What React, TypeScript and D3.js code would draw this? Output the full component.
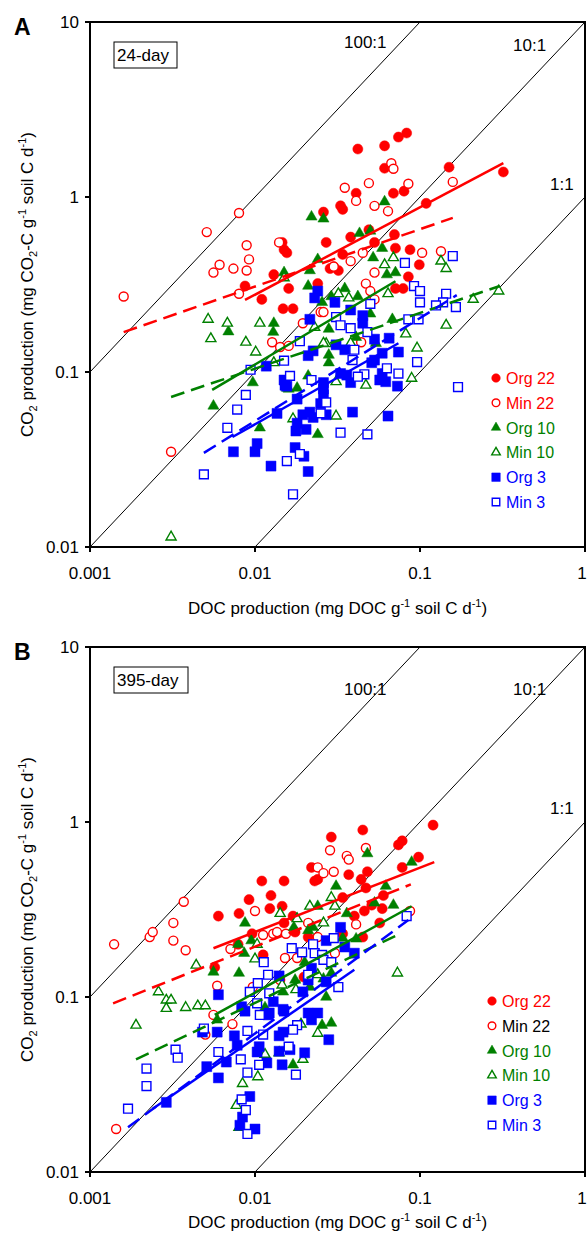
import React from 'react';
import * as d3 from 'd3';

const X_TICKS = [0.001, 0.01, 0.1, 1];
const X_TICK_LABELS = ['0.001', '0.01', '0.1', '1'];
const Y_TICKS = [0.01, 0.1, 1, 10];
const Y_TICK_LABELS = ['0.01', '0.1', '1', '10'];
const RATIOS = [100, 10, 1];
const RATIO_LABELS = ['100:1', '10:1', '1:1'];
const SERIES_NAMES = ['Org 22', 'Min 22', 'Org 10', 'Min 10', 'Org 3', 'Min 3'];

const A_ORG22 = [
  [0.042, 1.88], [0.061, 1.96], [0.074, 2.2], [0.083, 2.32], [0.061, 1.46], [0.15, 1.48], [0.32, 1.39], [0.041, 1.05], [0.069, 1.05], [0.08, 1.08],
  [0.033, 0.89], [0.034, 0.85], [0.026, 0.82], [0.109, 0.92], [0.038, 0.59], [0.027, 0.55], [0.049, 0.65], [0.053, 0.55], [0.07, 0.61], [0.071, 0.51],
  [0.087, 0.5], [0.099, 0.41], [0.085, 0.35], [0.034, 0.47], [0.03, 0.4], [0.032, 0.38], [0.024, 0.32], [0.016, 0.3], [0.015, 0.5], [0.0146, 0.55],
  [0.071, 0.3], [0.079, 0.3], [0.0148, 0.23], [0.017, 0.23], [0.0156, 0.48], [0.013, 0.36], [0.0087, 0.31], [0.011, 0.26], [0.0285, 0.39],
];
const A_MIN22 = [
  [0.0016, 0.27], [0.0051, 0.63], [0.008, 0.81], [0.0089, 0.53], [0.0061, 0.41], [0.0056, 0.37], [0.0074, 0.39], [0.0089, 0.38], [0.0092, 0.44], [0.014, 0.55],
  [0.008, 0.28], [0.0195, 0.19], [0.0127, 0.148], [0.0142, 0.139], [0.016, 0.141], [0.025, 0.22], [0.03, 0.4], [0.0031, 0.035], [0.035, 1.13], [0.049, 1.2],
  [0.067, 1.56], [0.069, 1.45], [0.085, 1.19], [0.158, 1.22], [0.041, 0.95], [0.053, 0.89], [0.064, 0.83], [0.045, 0.48], [0.038, 0.43], [0.053, 0.37],
  [0.047, 0.32], [0.05, 0.29], [0.053, 0.26], [0.103, 0.48], [0.134, 0.49], [0.044, 0.148], [0.026, 0.22],
];
const A_ORG10 = [
  [0.022, 0.77], [0.026, 0.75], [0.024, 0.44], [0.0215, 0.38], [0.015, 0.37], [0.021, 0.31], [0.0255, 0.25], [0.029, 0.27], [0.013, 0.19], [0.0129, 0.169],
  [0.0069, 0.17], [0.0097, 0.087], [0.021, 0.095], [0.018, 0.081], [0.0156, 0.081], [0.028, 0.125], [0.061, 0.94], [0.043, 0.62], [0.05, 0.64], [0.059, 0.51],
  [0.052, 0.45], [0.063, 0.36], [0.071, 0.37], [0.035, 0.3], [0.042, 0.27], [0.05, 0.215], [0.068, 0.2], [0.028, 0.176], [0.041, 0.158], [0.054, 0.146],
  [0.028, 0.113], [0.016, 0.08], [0.0056, 0.064], [0.0107, 0.048], [0.024, 0.044],
];
const A_MIN10 = [
  [0.0052, 0.2], [0.0054, 0.155], [0.0068, 0.19], [0.0107, 0.19], [0.0088, 0.148], [0.0101, 0.13], [0.015, 0.345], [0.023, 0.18], [0.027, 0.145], [0.013, 0.113],
  [0.069, 0.45], [0.061, 0.41], [0.064, 0.28], [0.134, 0.43], [0.144, 0.39], [0.21, 0.26], [0.3, 0.29], [0.144, 0.185], [0.082, 0.165], [0.096, 0.137],
  [0.089, 0.092], [0.047, 0.084], [0.031, 0.088], [0.038, 0.146], [0.026, 0.146], [0.032, 0.28], [0.037, 0.265], [0.0031, 0.0114], [0.031, 0.056], [0.017, 0.054],
];
const A_ORG3 = [
  [0.024, 0.29], [0.023, 0.265], [0.0215, 0.2], [0.0117, 0.108], [0.021, 0.124], [0.0225, 0.132], [0.015, 0.09], [0.0156, 0.083], [0.026, 0.08], [0.031, 0.143],
  [0.0305, 0.25], [0.038, 0.226], [0.045, 0.21], [0.045, 0.19], [0.053, 0.154], [0.065, 0.156], [0.074, 0.13], [0.059, 0.128], [0.053, 0.117], [0.051, 0.113],
  [0.035, 0.134], [0.059, 0.098], [0.057, 0.09], [0.062, 0.088], [0.073, 0.083], [0.033, 0.098], [0.036, 0.096], [0.038, 0.087], [0.026, 0.087], [0.0074, 0.035],
  [0.0103, 0.039], [0.01, 0.035], [0.0125, 0.029], [0.021, 0.027], [0.0175, 0.037], [0.0198, 0.033], [0.0177, 0.046], [0.0204, 0.047], [0.018, 0.051], [0.0195, 0.057],
  [0.0215, 0.059], [0.0225, 0.055], [0.027, 0.057], [0.0136, 0.058], [0.018, 0.07], [0.0152, 0.084], [0.026, 0.074], [0.025, 0.066], [0.039, 0.059], [0.064, 0.056],
];
const A_MIN3 = [
  [0.0187, 0.15], [0.0094, 0.103], [0.015, 0.116], [0.0163, 0.095], [0.0088, 0.074], [0.031, 0.206], [0.158, 0.46], [0.081, 0.42], [0.092, 0.31], [0.1, 0.29],
  [0.1, 0.25], [0.144, 0.28], [0.138, 0.25], [0.125, 0.24], [0.165, 0.235], [0.085, 0.2], [0.098, 0.2], [0.05, 0.245], [0.033, 0.185], [0.038, 0.178],
  [0.048, 0.169], [0.04, 0.134], [0.039, 0.117], [0.063, 0.105], [0.074, 0.098], [0.046, 0.097], [0.042, 0.094], [0.022, 0.09], [0.17, 0.082], [0.0078, 0.061],
  [0.0068, 0.048], [0.0049, 0.026], [0.0156, 0.031], [0.0187, 0.034], [0.017, 0.02], [0.027, 0.067], [0.025, 0.058], [0.033, 0.045], [0.048, 0.044], [0.096, 0.114],
];

const B_ORG22 = [
  [0.029, 0.82], [0.011, 0.46], [0.015, 0.46], [0.0125, 0.38], [0.0092, 0.36], [0.008, 0.3], [0.006, 0.29], [0.0123, 0.32], [0.0146, 0.33], [0.023, 0.46],
  [0.022, 0.55], [0.017, 0.29], [0.015, 0.265], [0.0175, 0.235], [0.0096, 0.23], [0.0079, 0.2], [0.0112, 0.174], [0.0057, 0.148], [0.0198, 0.13], [0.045, 0.9],
  [0.12, 0.96], [0.074, 0.74], [0.078, 0.78], [0.098, 0.63], [0.078, 0.55], [0.048, 0.52], [0.037, 0.5], [0.024, 0.47], [0.044, 0.47], [0.047, 0.42],
  [0.034, 0.37], [0.06, 0.38], [0.051, 0.335], [0.059, 0.32], [0.04, 0.29], [0.046, 0.31], [0.057, 0.265], [0.045, 0.22], [0.034, 0.23], [0.021, 0.22],
];
const B_MIN22 = [
  [0.0014, 0.2], [0.0023, 0.22], [0.0024, 0.235], [0.0032, 0.265], [0.0032, 0.21], [0.0038, 0.185], [0.0037, 0.35], [0.01, 0.31], [0.0285, 0.69], [0.024, 0.55],
  [0.026, 0.51], [0.03, 0.52], [0.0112, 0.226], [0.0129, 0.23], [0.0136, 0.235], [0.0154, 0.23], [0.0071, 0.188], [0.0059, 0.116], [0.0056, 0.079], [0.0073, 0.07],
  [0.021, 0.265], [0.024, 0.22], [0.0305, 0.178], [0.0152, 0.167], [0.018, 0.167], [0.0142, 0.125], [0.0097, 0.114], [0.00144, 0.0176], [0.005, 0.061], [0.047, 0.71],
  [0.036, 0.64], [0.037, 0.61], [0.041, 0.26], [0.087, 0.31],
];
const B_ORG10 = [
  [0.0087, 0.265], [0.0095, 0.21], [0.0079, 0.2], [0.0086, 0.178], [0.0056, 0.139], [0.008, 0.137], [0.0172, 0.25], [0.0225, 0.25], [0.024, 0.33], [0.031, 0.43],
  [0.02, 0.158], [0.0175, 0.125], [0.0059, 0.074], [0.0115, 0.087], [0.027, 0.1], [0.0255, 0.069], [0.029, 0.071], [0.017, 0.041], [0.0215, 0.114], [0.048, 0.66],
  [0.089, 0.59], [0.062, 0.43], [0.069, 0.335], [0.053, 0.345], [0.036, 0.3], [0.021, 0.24], [0.034, 0.217], [0.041, 0.215], [0.029, 0.137], [0.026, 0.127],
  [0.0148, 0.107],
];
const B_MIN10 = [
  [0.0044, 0.152], [0.0026, 0.107], [0.0029, 0.096], [0.0031, 0.096], [0.0029, 0.086], [0.0038, 0.087], [0.0045, 0.089], [0.005, 0.089], [0.0019, 0.069], [0.0142, 0.3],
  [0.018, 0.28], [0.0215, 0.33], [0.0305, 0.33], [0.029, 0.37], [0.0103, 0.2], [0.01, 0.165], [0.0084, 0.032], [0.0104, 0.035], [0.0077, 0.024], [0.008, 0.018],
  [0.0195, 0.044], [0.024, 0.062], [0.019, 0.07], [0.0115, 0.047], [0.014, 0.048], [0.0146, 0.117], [0.026, 0.265], [0.073, 0.137], [0.0177, 0.11], [0.024, 0.134],
];
const B_ORG3 = [
  [0.006, 0.103], [0.0083, 0.088], [0.0087, 0.083], [0.0122, 0.081], [0.015, 0.083], [0.0129, 0.094], [0.014, 0.132], [0.022, 0.146], [0.0195, 0.107], [0.021, 0.125],
  [0.027, 0.122], [0.027, 0.21], [0.033, 0.25], [0.021, 0.081], [0.024, 0.081], [0.0059, 0.063], [0.0075, 0.06], [0.0078, 0.053], [0.0067, 0.0425], [0.006, 0.0345],
  [0.0051, 0.04], [0.0029, 0.025], [0.0103, 0.0485], [0.0106, 0.052], [0.0118, 0.042], [0.014, 0.049], [0.0146, 0.041], [0.0163, 0.05], [0.02, 0.048], [0.0148, 0.063],
  [0.014, 0.06], [0.012, 0.079], [0.028, 0.057], [0.0093, 0.027], [0.0084, 0.0206], [0.0081, 0.0185], [0.01, 0.0176], [0.0048, 0.063], [0.035, 0.193], [0.04, 0.178],
  [0.0148, 0.085], [0.022, 0.074],
];
const B_MIN3 = [
  [0.0113, 0.158], [0.012, 0.134], [0.0104, 0.12], [0.0093, 0.107], [0.0122, 0.105], [0.0103, 0.092], [0.0107, 0.079], [0.0167, 0.19], [0.0193, 0.18], [0.0225, 0.2],
  [0.023, 0.178], [0.0255, 0.174], [0.03, 0.217], [0.021, 0.134], [0.018, 0.069], [0.0049, 0.066], [0.0017, 0.023], [0.0022, 0.039], [0.0022, 0.031], [0.0033, 0.05],
  [0.0034, 0.045], [0.006, 0.0485], [0.0082, 0.044], [0.009, 0.037], [0.0106, 0.041], [0.009, 0.064], [0.0112, 0.061], [0.017, 0.065], [0.016, 0.052], [0.0177, 0.036],
  [0.0083, 0.026], [0.0088, 0.0226], [0.009, 0.0165], [0.083, 0.29], [0.032, 0.114], [0.026, 0.163], [0.029, 0.158],
];

// regression (trend) lines: [start, end]
const A_FIT_ORG22 = [[0.0087, 0.258], [0.32, 1.56]];
const A_FIT_MIN22 = [[0.0016, 0.169], [0.158, 0.76]];
const A_FIT_ORG10 = [[0.0055, 0.079], [0.071, 0.33]];
const A_FIT_MIN10 = [[0.0031, 0.072], [0.305, 0.31]];
const A_FIT_ORG3 = [[0.0073, 0.0425], [0.074, 0.146]];
const A_FIT_MIN3 = [[0.0049, 0.0345], [0.167, 0.275]];
const B_FIT_ORG22 = [[0.0056, 0.19], [0.122, 0.59]];
const B_FIT_MIN22 = [[0.00138, 0.092], [0.088, 0.44]];
const B_FIT_ORG10 = [[0.0057, 0.079], [0.089, 0.33]];
const B_FIT_MIN10 = [[0.0019, 0.044], [0.073, 0.226]];
const B_FIT_ORG3 = [[0.0024, 0.023], [0.04, 0.143]];
const B_FIT_MIN3 = [[0.0017, 0.018], [0.085, 0.275]];

const FONT = "'Liberation Sans', Arial, Helvetica, sans-serif";
const RED = '#ff0000';
const GREEN = '#008000';
const BLUE = '#0000ff';
const STYLES = [
  { color: RED, shape: 'circle', filled: true },
  { color: RED, shape: 'circle', filled: false },
  { color: GREEN, shape: 'triangle', filled: true },
  { color: GREEN, shape: 'triangle', filled: false },
  { color: BLUE, shape: 'square', filled: true },
  { color: BLUE, shape: 'square', filled: false },
];

const X0 = 90, X1 = 585;

function symbolPath(shape: string, filled: boolean, k = 1) {
  let type: any = d3.symbolCircle;
  let size = filled ? 80 : 64;
  if (shape === 'triangle') { type = d3.symbolTriangle; size = filled ? 54 : 44; }
  if (shape === 'square') { type = d3.symbolSquare; size = filled ? 100 : 78; }
  return d3.symbol().type(type).size(size * k * k)() as string;
}

function Marker({ st, x, y, k = 1 }: any) {
  return (
    <path
      d={symbolPath(st.shape, st.filled, k)}
      transform={`translate(${x},${y})`}
      fill={st.filled ? st.color : '#ffffff'}
      stroke={st.color}
      strokeWidth={st.filled ? 0.5 : 1.4}
    />
  );
}

function Panel({ top, letter, boxLabel, boxW, series, fits, legendX, legendY, legendColors, ratioPos, xTitleY }: any) {
  const x = d3.scaleLog().domain([0.001, 1]).range([X0, X1]);
  const y = d3.scaleLog().domain([0.01, 10]).range([top + 525, top]);
  const bottom = top + 525;
  return (
    <g fontFamily={FONT}>
      {RATIOS.map((r, i) => {
        const xs = Math.max(0.001, 0.01 / r);
        const xe = Math.min(1, 10 / r);
        return (
          <line key={'r' + i} x1={x(xs)} y1={y(r * xs)} x2={x(xe)} y2={y(r * xe)} stroke="#000" strokeWidth={1} />
        );
      })}
      {RATIO_LABELS.map((t, i) => (
        <text key={'rl' + i} x={ratioPos[i][0]} y={top + ratioPos[i][1]} fontSize={17} fill="#000">{t}</text>
      ))}
      {series.map((pts: number[][], si: number) => (
        <g key={'s' + si}>
          {pts.map((p, pi) => (
            <Marker key={pi} st={STYLES[si]} x={x(p[0])} y={y(p[1])} />
          ))}
        </g>
      ))}
      {fits.map((f: number[][], fi: number) => (
        <line
          key={'f' + fi}
          x1={x(f[0][0])} y1={y(f[0][1])} x2={x(f[1][0])} y2={y(f[1][1])}
          stroke={STYLES[fi].color}
          strokeWidth={2.5}
          strokeDasharray={STYLES[fi].filled ? undefined : '14 7'}
        />
      ))}
      <rect x={X0} y={top} width={X1 - X0} height={525} fill="none" stroke="#000" strokeWidth={2} />
      {X_TICKS.map((t, i) => (
        <g key={'xt' + i}>
          <line x1={x(t)} x2={x(t)} y1={bottom} y2={bottom + 5} stroke="#000" strokeWidth={2} />
          <text x={Math.min(x(t), 582)} y={bottom + 32} textAnchor="middle" fontSize={17}>{X_TICK_LABELS[i]}</text>
        </g>
      ))}
      {Y_TICKS.map((t, i) => (
        <g key={'yt' + i}>
          <line x1={X0 - 5} x2={X0} y1={y(t)} y2={y(t)} stroke="#000" strokeWidth={2} />
          <text x={X0 - 11} y={y(t) + 6} textAnchor="end" fontSize={17}>{Y_TICK_LABELS[i]}</text>
        </g>
      ))}
      <text x={(X0 + X1) / 2} y={xTitleY} textAnchor="middle" fontSize={17}>
        DOC production (mg DOC g<tspan dy={-7} fontSize={11}>-1</tspan><tspan dy={7}> soil C d</tspan><tspan dy={-7} fontSize={11}>-1</tspan><tspan dy={7}>)</tspan>
      </text>
      <text transform={`translate(33,${top + 262.5}) rotate(-90)`} textAnchor="middle" fontSize={17}>
        CO<tspan dy={4} fontSize={11}>2</tspan><tspan dy={-4}> production (mg CO</tspan><tspan dy={4} fontSize={11}>2</tspan><tspan dy={-4}>-C g</tspan><tspan dy={-7} fontSize={11}>-1</tspan><tspan dy={7}> soil C d</tspan><tspan dy={-7} fontSize={11}>-1</tspan><tspan dy={7}>)</tspan>
      </text>
      <text x={14} y={top + 13} fontSize={23} fontWeight="bold">{letter}</text>
      <rect x={114} y={top + 20} width={boxW} height={26} fill="#fff" stroke="#000" strokeWidth={1} />
      <text x={117} y={top + 39} fontSize={17}>{boxLabel}</text>
      {SERIES_NAMES.map((n, i) => (
        <g key={'lg' + i}>
          <Marker st={STYLES[i]} x={legendX} y={legendY + i * 24.8} k={0.85} />
          <text x={legendX + 10} y={legendY + i * 24.8 + 6} fontSize={16} fill={legendColors[i]}>{n}</text>
        </g>
      ))}
    </g>
  );
}

export default function App() {
  return (
    <svg width={588} height={1235} style={{ position: 'absolute', left: 0, top: 0, background: '#fff' }}>
      <rect x={0} y={0} width={588} height={1235} fill="#fff" />
      <Panel
        top={22}
        letter="A"
        boxLabel="24-day"
        boxW={63}
        series={[A_ORG22, A_MIN22, A_ORG10, A_MIN10, A_ORG3, A_MIN3]}
        fits={[A_FIT_ORG22, A_FIT_MIN22, A_FIT_ORG10, A_FIT_MIN10, A_FIT_ORG3, A_FIT_MIN3]}
        legendX={496}
        legendY={378}
        legendColors={[RED, RED, GREEN, GREEN, BLUE, BLUE]}
        ratioPos={[[344, 26], [513, 29], [550, 168]]}
        xTitleY={614}
      />
      <Panel
        top={647}
        letter="B"
        boxLabel="395-day"
        boxW={74}
        series={[B_ORG22, B_MIN22, B_ORG10, B_MIN10, B_ORG3, B_MIN3]}
        fits={[B_FIT_ORG22, B_FIT_MIN22, B_FIT_ORG10, B_FIT_MIN10, B_FIT_ORG3, B_FIT_MIN3]}
        legendX={492}
        legendY={1001}
        legendColors={[RED, '#000', GREEN, GREEN, BLUE, BLUE]}
        ratioPos={[[344, 48], [513, 48], [550, 167]]}
        xTitleY={1228}
      />
    </svg>
  );
}
